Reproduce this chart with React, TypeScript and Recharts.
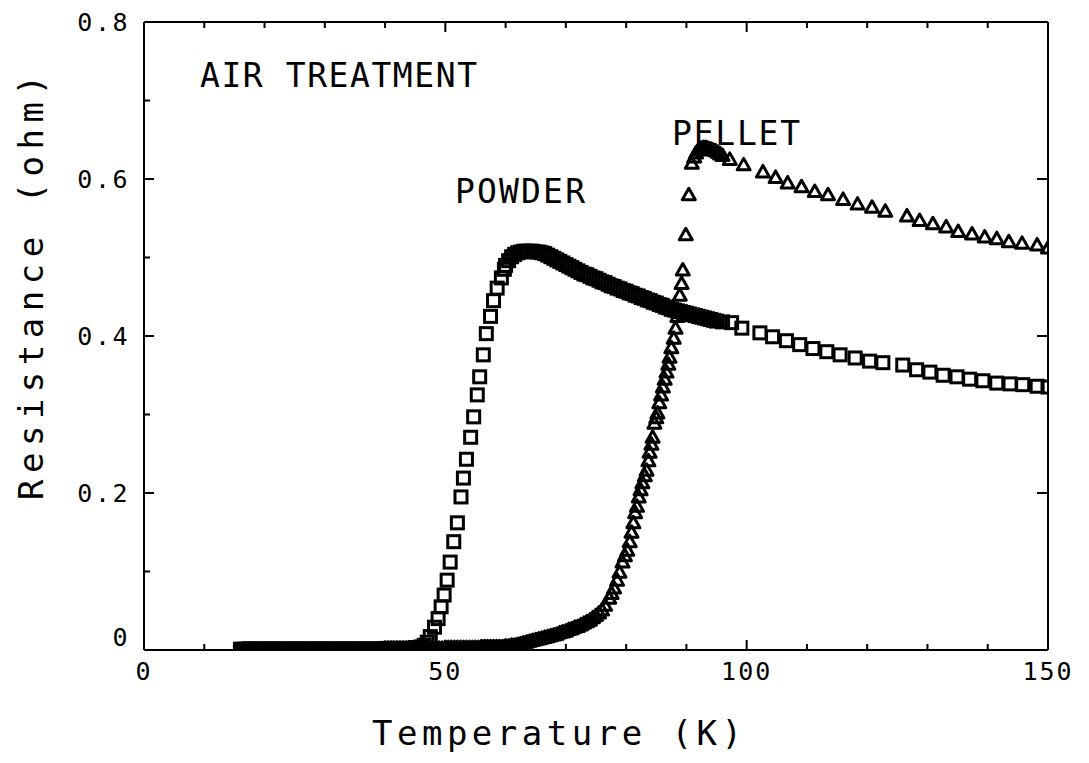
import { ScatterChart, Scatter, XAxis, YAxis } from 'recharts';

// Powder sample (open squares), temperature in K, resistance in ohm
const powderT = [
  16, 16.5, 17, 17.5, 18, 18.5, 19, 19.5, 20, 20.5, 21, 21.5, 22, 22.5, 23, 23.5, 24, 24.5, 25, 25.5,
  26, 26.5, 27, 27.5, 28, 28.5, 29, 29.5, 30, 30.5, 31, 31.5, 32, 32.5, 33, 33.5, 34, 34.5, 35, 35.5,
  36, 36.5, 37, 37.5, 38, 38.5, 39, 39.5, 40, 40.5, 41, 41.5, 42, 42.5, 43, 43.5, 44, 44.5, 45, 45.5,
  46, 46.5, 47,
  47.5, 48.2, 48.8, 49.3, 49.8, 50.3, 50.8, 51.4, 52, 52.6, 53, 53.5,
  54.2, 54.7, 55.3, 55.7, 56.3, 56.8, 57.5, 58, 58.6, 59.3, 59.8,
  60, 60.5, 61, 61.5, 62, 62.5, 63, 63.5, 64, 64.5, 65, 65.5, 66, 66.5, 67, 67.5, 68, 68.5, 69, 69.5,
  70, 70.5, 71, 71.5, 72, 72.5, 73, 73.5, 74, 74.5, 75, 75.5, 76, 76.5, 77, 77.5, 78, 78.5, 79, 79.5,
  80, 80.5, 81, 81.5, 82, 82.5, 83, 83.5, 84, 84.5, 85, 85.5, 86, 86.5, 87, 87.5, 88, 88.5, 89, 89.5,
  90, 90.5, 91, 91.5, 92, 92.5, 93, 93.5, 94, 94.5, 95, 96,
  97.5, 99.2, 102.2, 104.3, 106.6, 108.8, 111, 113.3, 115.5, 118, 120.4, 122.6,
  125.9, 128.2, 130.4, 132.6, 134.9, 137, 139.2, 141.5, 143.7, 145.8, 148.2, 150,
];
const powderR = [
  0.001, 0.001, 0.001, 0.001, 0.001, 0.001, 0.001, 0.001, 0.001, 0.001, 0.001, 0.001, 0.001, 0.001, 0.001, 0.001,
  0.001, 0.001, 0.001, 0.001, 0.001, 0.001, 0.001, 0.001, 0.001, 0.001, 0.001, 0.001, 0.001, 0.001, 0.001, 0.001,
  0.001, 0.001, 0.001, 0.001, 0.001, 0.001, 0.001, 0.001, 0.001, 0.001, 0.001, 0.001, 0.001, 0.001, 0.001, 0.001,
  0.002, 0.002, 0.002, 0.002, 0.002, 0.002, 0.002, 0.002, 0.002, 0.002,
  0.003, 0.003, 0.004, 0.006, 0.01,
  0.017, 0.029, 0.04, 0.055, 0.07, 0.089, 0.112, 0.138, 0.162, 0.195, 0.219, 0.243,
  0.271, 0.297, 0.325, 0.348, 0.376, 0.403, 0.425, 0.445, 0.461, 0.474, 0.485,
  0.49, 0.496, 0.501, 0.504, 0.506, 0.507, 0.508, 0.508, 0.508, 0.508, 0.507, 0.507, 0.506, 0.505,
  0.503, 0.501, 0.499, 0.497, 0.495, 0.493,
  0.491, 0.489, 0.487, 0.485, 0.483, 0.481, 0.479, 0.478, 0.476, 0.474, 0.473, 0.471, 0.469, 0.468,
  0.466, 0.464, 0.463, 0.461, 0.46, 0.458,
  0.457, 0.455, 0.454, 0.452, 0.451, 0.449, 0.448, 0.446, 0.445, 0.443, 0.442, 0.44, 0.439, 0.437,
  0.436, 0.434, 0.433, 0.432, 0.431, 0.43,
  0.429, 0.428, 0.427, 0.426, 0.425, 0.424, 0.423, 0.422, 0.421, 0.42, 0.419, 0.418,
  0.417, 0.41, 0.404, 0.399, 0.394, 0.389, 0.384, 0.38, 0.376, 0.372, 0.368, 0.366,
  0.363, 0.357, 0.354, 0.35, 0.348, 0.345, 0.343, 0.34, 0.339, 0.338, 0.336, 0.335,
];

// Pellet sample (open triangles)
const pelletT = [
  16.5, 17, 17.5, 18, 18.5, 19, 19.5, 20, 20.5, 21, 21.5, 22, 22.5, 23, 23.5, 24, 24.5, 25, 25.5, 26,
  26.5, 27, 27.5, 28, 28.5, 29, 29.5, 30, 30.5, 31, 31.5, 32, 32.5, 33, 33.5, 34, 34.5, 35, 35.5, 36,
  36.5, 37, 37.5, 38, 38.5, 39, 39.5,
  40, 40.5, 41, 41.5, 42, 42.5, 43, 43.5, 44, 44.5, 45, 45.5, 46, 46.5, 47, 47.5, 48, 48.5, 49, 49.5,
  50, 50.5, 51, 51.5, 52, 52.5, 53, 53.5, 54, 54.5, 55, 55.5,
  56, 56.5, 57, 57.5, 58, 58.5, 59, 59.5,
  60, 60.5, 61, 61.5, 62, 62.5, 63, 63.5, 64, 64.5, 65, 65.5, 66, 66.5, 67, 67.5, 68, 68.5, 69, 69.5,
  70, 70.5, 71, 71.5, 72, 72.5, 73, 73.5, 74, 74.5, 75, 75.5, 76, 76.5, 77.2, 77.6, 78, 78.5, 78.9,
  79.4, 79.8, 80.2, 80.6, 80.9, 81.2, 81.5, 81.8, 82.1, 82.4, 82.7, 83.1, 83.4, 83.7, 83.9, 84.2,
  84.4, 84.7, 85, 85.2, 85.5, 85.8, 86.1, 86.4, 86.7, 87, 87.2, 87.5, 87.9, 88.2, 88.5, 88.9, 89.2,
  89.4, 89.9, 90.4, 90.9, 91.3, 91.6, 92, 92.4, 92.8, 93.2, 93.6, 94, 94.4, 94.8, 95.2, 95.6, 96,
  97.2, 99.5, 102.7, 104.8, 106.8, 109.1, 111.3, 113.5, 116, 118.4, 120.8, 123,
  126.6, 128.7, 130.9, 133.1, 135.1, 137.4, 139.5, 141.5, 143.5, 145.7, 148.2, 150,
];
const pelletR = [
  0.001, 0.001, 0.001, 0.001, 0.001, 0.001, 0.001, 0.001, 0.001, 0.001, 0.001, 0.001, 0.001, 0.001, 0.001, 0.001,
  0.001, 0.001, 0.001, 0.001, 0.001, 0.001, 0.001, 0.001, 0.001, 0.001, 0.001, 0.001, 0.001, 0.001, 0.001, 0.001,
  0.001, 0.001, 0.001, 0.001, 0.001, 0.001, 0.001, 0.001, 0.001, 0.001, 0.001, 0.001, 0.001, 0.001, 0.001,
  0.002, 0.002, 0.002, 0.002, 0.002, 0.002, 0.002, 0.002, 0.002, 0.002,
  0.002, 0.002, 0.002, 0.002, 0.002, 0.002, 0.002, 0.002, 0.002, 0.002,
  0.003, 0.003, 0.003, 0.003, 0.003, 0.003, 0.003, 0.003, 0.003, 0.003, 0.003, 0.003,
  0.004, 0.004, 0.004, 0.004, 0.004, 0.004, 0.004, 0.004,
  0.005, 0.005, 0.006, 0.006, 0.007, 0.008, 0.009, 0.01, 0.011, 0.012, 0.013, 0.014, 0.015, 0.016,
  0.017, 0.018, 0.019, 0.02, 0.022, 0.023,
  0.024, 0.026, 0.027, 0.029, 0.03, 0.032, 0.034, 0.036, 0.038, 0.041, 0.044, 0.047, 0.051, 0.057,
  0.066, 0.072, 0.079, 0.089, 0.099,
  0.112, 0.12, 0.127, 0.138, 0.15, 0.162, 0.175, 0.183, 0.195, 0.204, 0.213, 0.222, 0.229, 0.241,
  0.252, 0.262,
  0.271, 0.289, 0.296, 0.302, 0.315, 0.325, 0.335, 0.345, 0.354, 0.364, 0.373, 0.385, 0.397, 0.41,
  0.425, 0.452, 0.467,
  0.484, 0.529, 0.58, 0.62, 0.628, 0.633, 0.637, 0.639, 0.64, 0.64, 0.639, 0.638, 0.637, 0.636,
  0.634, 0.632, 0.63,
  0.625, 0.618, 0.609, 0.602, 0.595, 0.59, 0.584, 0.58, 0.574, 0.568, 0.564, 0.559,
  0.553, 0.547, 0.543, 0.539, 0.533, 0.53, 0.526, 0.524, 0.52, 0.518, 0.516, 0.512,
];

const tempTicks = [0, 10, 20, 30, 40, 50, 60, 70, 80, 90, 100, 110, 120, 130, 140, 150];
const tempLabels = [0, 50, 100, 150];
const resTicks = [0, 0.1, 0.2, 0.3, 0.4, 0.5, 0.6, 0.7, 0.8];
const resLabels = ['0', '0.2', '0.4', '0.6', '0.8'];

const powder = powderT.map((t, i) => ({ t, r: powderR[i] }));
const pellet = pelletT.map((t, i) => ({ t, r: pelletR[i] }));

const W = 1073;
const H = 747;
const FONT = '"DejaVu Sans Mono", "Liberation Mono", monospace';
const INK = '#000';

function Square(p: any) {
  return (
    <rect x={p.cx - 6} y={p.cy - 6} width={12} height={12} fill="none" stroke={INK} strokeWidth={3} />
  );
}

function Triangle(p: any) {
  const { cx, cy } = p;
  return (
    <path
      d={`M${cx},${cy - 6.5} L${cx + 6.5},${cy + 5} L${cx - 6.5},${cy + 5} Z`}
      fill="none"
      stroke={INK}
      strokeWidth={3}
      strokeLinejoin="round"
    />
  );
}

const resLabel = (v: number) => (v === 0 ? '0' : v.toFixed(1));

function BottomTick({ x, y, payload }: any) {
  const major = tempLabels.includes(payload.value);
  return (
    <g>
      <line x1={x} x2={x} y1={y} y2={y - (major ? 10 : 6)} stroke={INK} strokeWidth={2} />
      {major && (
        <text x={x} y={y + 30} textAnchor="middle" fontFamily={FONT} fontSize={25} fill={INK} letterSpacing={2}>
          {payload.value}
        </text>
      )}
    </g>
  );
}

function TopTick({ x, y, payload }: any) {
  const major = tempLabels.includes(payload.value);
  return <line x1={x} x2={x} y1={y} y2={y + (major ? 10 : 6)} stroke={INK} strokeWidth={2} />;
}

function LeftTick({ x, y, payload }: any) {
  const txt = resLabel(payload.value);
  const major = resLabels.includes(txt);
  return (
    <g>
      <line x1={x} x2={x + (major ? 10 : 6)} y1={y} y2={y} stroke={INK} strokeWidth={2} />
      {major && (
        <text
          x={x - 14}
          y={payload.value === 0 ? y - 4 : y + 9}
          textAnchor="end"
          fontFamily={FONT}
          fontSize={25}
          fill={INK}
          letterSpacing={2.5}
        >
          {txt}
        </text>
      )}
    </g>
  );
}

function RightTick({ x, y, payload }: any) {
  const major = resLabels.includes(resLabel(payload.value));
  if (!major) return <g />;
  return <line x1={x} x2={x - 11} y1={y} y2={y} stroke={INK} strokeWidth={2} />;
}

export default function App() {
  const axisLine = { stroke: INK, strokeWidth: 2 };
  return (
    <div style={{ position: 'relative', width: W, height: H, background: '#fff' }}>
      <ScatterChart width={W} height={H} margin={{ top: 4, right: 23, bottom: 75, left: 76 }}>
        <XAxis
          xAxisId="b"
          type="number"
          dataKey="t"
          domain={[0, 150]}
          ticks={tempTicks}
          interval={0}
          height={30}
          tickSize={0}
          tickMargin={0}
          tickLine={false}
          axisLine={axisLine}
          tick={BottomTick}
          allowDataOverflow
        />
        <XAxis
          xAxisId="t"
          orientation="top"
          type="number"
          dataKey="t"
          domain={[0, 150]}
          ticks={tempTicks}
          interval={0}
          height={10}
          tickSize={0}
          tickMargin={0}
          tickLine={false}
          axisLine={axisLine}
          tick={TopTick}
          allowDataOverflow
        />
        <YAxis
          yAxisId="l"
          type="number"
          dataKey="r"
          domain={[0, 0.8]}
          ticks={resTicks}
          interval={0}
          width={60}
          tickSize={0}
          tickMargin={0}
          tickLine={false}
          axisLine={axisLine}
          tick={LeftTick}
          allowDataOverflow
        />
        <YAxis
          yAxisId="r"
          orientation="right"
          type="number"
          dataKey="r"
          domain={[0, 0.8]}
          ticks={resTicks}
          interval={0}
          width={10}
          tickSize={0}
          tickMargin={0}
          tickLine={false}
          axisLine={axisLine}
          tick={RightTick}
          allowDataOverflow
        />
        <Scatter
          name="POWDER"
          data={powder}
          xAxisId="b"
          yAxisId="l"
          shape={Square}
          isAnimationActive={false}
        />
        <Scatter
          name="PELLET"
          data={pellet}
          xAxisId="b"
          yAxisId="l"
          shape={Triangle}
          isAnimationActive={false}
        />
      </ScatterChart>
      <svg
        width={W}
        height={H}
        style={{ position: 'absolute', left: 0, top: 0, pointerEvents: 'none' }}
      >
        <g fontFamily={FONT} fill={INK} fontSize={33}>
          <text x={192} y={79} textLength={277} lengthAdjust="spacing">AIR TREATMENT</text>
          <text x={447} y={195} textLength={130} lengthAdjust="spacing">POWDER</text>
          <text x={664} y={137} textLength={128} lengthAdjust="spacing">PELLET</text>
          <text x={364} y={737} fontSize={34} textLength={370} lengthAdjust="spacing">
            Temperature (K)
          </text>
          <text
            transform="translate(35, 492) rotate(-90)"
            x={0}
            y={0}
            fontSize={34}
            textLength={425}
            lengthAdjust="spacing"
          >
            Resistance (ohm)
          </text>
        </g>
      </svg>
    </div>
  );
}
